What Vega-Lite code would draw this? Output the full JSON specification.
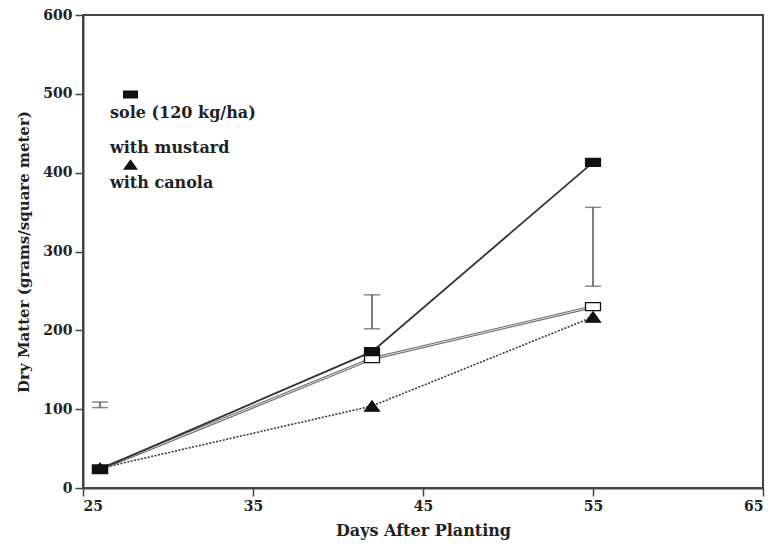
{
  "$schema": "https://vega.github.io/schema/vega-lite/v6.json",
  "autosize": "none",
  "width": 680,
  "height": 473,
  "padding": {"left": 83, "top": 15, "right": 11, "bottom": 58},
  "background": "white",
  "config": {
    "view": {"stroke": "#444", "strokeWidth": 2},
    "font": "DejaVu Serif",
    "axis": {
      "grid": false,
      "domainColor": "#444",
      "domainWidth": 2,
      "tickColor": "#444",
      "tickWidth": 1.5,
      "tickSize": 8,
      "labelFont": "DejaVu Serif",
      "labelFontWeight": "bold",
      "labelFontSize": 14,
      "labelColor": "#222",
      "titleFont": "DejaVu Serif",
      "titleFontWeight": "bold",
      "titleFontSize": 15,
      "titleColor": "#222"
    }
  },
  "datasets": {
    "growth": [
      {"series": "sole (120 kg/ha)", "day": 26, "dm": 24},
      {"series": "sole (120 kg/ha)", "day": 42, "dm": 173},
      {"series": "sole (120 kg/ha)", "day": 55, "dm": 413},
      {"series": "with mustard", "day": 26, "dm": 24},
      {"series": "with mustard", "day": 42, "dm": 164},
      {"series": "with mustard", "day": 55, "dm": 230},
      {"series": "with canola", "day": 26, "dm": 25},
      {"series": "with canola", "day": 42, "dm": 104},
      {"series": "with canola", "day": 55, "dm": 217}
    ],
    "lsd": [
      {"day": 26, "lo": 102, "hi": 109},
      {"day": 42, "lo": 202, "hi": 245},
      {"day": 55, "lo": 256, "hi": 356}
    ]
  },
  "encoding": {
    "x": {
      "type": "quantitative",
      "scale": {"domain": [25, 65], "nice": false},
      "axis": {"values": [25, 35, 45, 55, 65], "title": "Days After Planting", "titleFontSize": 16, "titlePadding": 9, "labelPadding": 3}
    }
  },
  "layer": [
    {
      "data": {"name": "lsd"},
      "mark": {"type": "rule", "color": "#555", "strokeWidth": 1.5},
      "encoding": {
        "x": {"field": "day"},
        "y": {"field": "lo", "type": "quantitative", "scale": {"domain": [0, 600], "nice": false},
              "axis": {"values": [0, 100, 200, 300, 400, 500, 600], "title": "Dry Matter (grams/square meter)", "titlePadding": 11, "labelPadding": 3}},
        "y2": {"field": "hi"}
      }
    },
    {
      "data": {"name": "lsd"},
      "mark": {"type": "tick", "orient": "horizontal", "color": "#555", "thickness": 1.5, "size": 16},
      "encoding": {"x": {"field": "day"}, "y": {"field": "lo", "type": "quantitative"}}
    },
    {
      "data": {"name": "lsd"},
      "mark": {"type": "tick", "orient": "horizontal", "color": "#555", "thickness": 1.5, "size": 16},
      "encoding": {"x": {"field": "day"}, "y": {"field": "hi", "type": "quantitative"}}
    },
    {
      "data": {"name": "growth"},
      "transform": [{"filter": "datum.series === 'with canola'"}],
      "mark": {"type": "line", "color": "#3a3a3a", "strokeWidth": 1.6, "strokeDash": [2, 1.5]},
      "encoding": {"x": {"field": "day"}, "y": {"field": "dm", "type": "quantitative"}}
    },
    {
      "data": {"name": "growth"},
      "transform": [{"filter": "datum.series === 'with mustard'"}],
      "mark": {"type": "line", "color": "#6a6a6a", "strokeWidth": 3},
      "encoding": {"x": {"field": "day"}, "y": {"field": "dm", "type": "quantitative"}}
    },
    {
      "data": {"name": "growth"},
      "transform": [{"filter": "datum.series === 'with mustard'"}],
      "mark": {"type": "line", "color": "#e4e4e4", "strokeWidth": 1},
      "encoding": {"x": {"field": "day"}, "y": {"field": "dm", "type": "quantitative"}}
    },
    {
      "data": {"name": "growth"},
      "transform": [{"filter": "datum.series === 'sole (120 kg/ha)'"}],
      "mark": {"type": "line", "color": "#333", "strokeWidth": 1.8},
      "encoding": {"x": {"field": "day"}, "y": {"field": "dm", "type": "quantitative"}}
    },
    {
      "data": {"name": "growth"},
      "transform": [{"filter": "datum.series === 'with canola'"}],
      "mark": {"type": "point", "shape": "M0,-0.7L1,0.7H-1Z", "size": 225, "filled": true, "fill": "#111", "stroke": "#111", "strokeWidth": 1.2, "opacity": 1},
      "encoding": {"x": {"field": "day"}, "y": {"field": "dm", "type": "quantitative"}}
    },
    {
      "data": {"name": "growth"},
      "transform": [{"filter": "datum.series === 'with mustard'"}],
      "mark": {"type": "point", "shape": "M-1,-0.53H1V0.53H-1Z", "size": 225, "filled": true, "fill": "#ffffff", "stroke": "#111", "strokeWidth": 1.3, "opacity": 1},
      "encoding": {"x": {"field": "day"}, "y": {"field": "dm", "type": "quantitative"}}
    },
    {
      "data": {"name": "growth"},
      "transform": [{"filter": "datum.series === 'sole (120 kg/ha)'"}],
      "mark": {"type": "point", "shape": "M-1,-0.53H1V0.53H-1Z", "size": 225, "filled": true, "fill": "#111", "stroke": "#111", "strokeWidth": 1.2, "opacity": 1},
      "encoding": {"x": {"field": "day"}, "y": {"field": "dm", "type": "quantitative"}}
    },
    {
      "data": {"name": "growth"},
      "mark": {"type": "point", "filled": false, "size": 0, "strokeWidth": 1.5},
      "encoding": {
        "x": {"field": "day"},
        "y": {"field": "dm", "type": "quantitative"},
        "shape": {"field": "series", "type": "nominal",
                  "scale": {"domain": ["sole (120 kg/ha)", "with mustard", "with canola"],
                            "range": ["M-2.7,0H-1M1,0H2.7M-1,-0.53H1V0.53H-1Z", "M-2.7,0H-1M1,0H2.7M-1,-0.53H1V0.53H-1Z", "M-2.7,0H-0.9M0.9,0H2.7M0,-0.7L1,0.7H-1Z"]},
                  "legend": {
                    "title": null,
                    "orient": "none",
                    "legendX": 39,
                    "legendY": 71,
                    "padding": 0,
                    "symbolSize": 225,
                    "symbolStrokeWidth": 1.5,
                    "symbolStrokeColor": "#111",
                    "symbolOpacity": 1,
                    "rowPadding": -19,
                    "labelOffset": -29,
                    "labelExpr": "['', datum.label]",
                    "labelLineHeight": 60,
                    "labelBaseline": "middle",
                    "labelFont": "DejaVu Serif",
                    "labelFontWeight": "bold",
                    "labelFontSize": 16,
                    "labelColor": "#222",
                    "labelLimit": 300
                  }},
        "fill": {"field": "series", "type": "nominal",
                 "scale": {"domain": ["sole (120 kg/ha)", "with mustard", "with canola"], "range": ["#111", "#ffffff", "#111"]},
                 "legend": {
                    "title": null,
                    "orient": "none",
                    "legendX": 39,
                    "legendY": 71,
                    "padding": 0,
                    "symbolSize": 225,
                    "symbolStrokeWidth": 1.5,
                    "symbolStrokeColor": "#111",
                    "symbolOpacity": 1,
                    "rowPadding": -19,
                    "labelOffset": -29,
                    "labelExpr": "['', datum.label]",
                    "labelLineHeight": 60,
                    "labelBaseline": "middle",
                    "labelFont": "DejaVu Serif",
                    "labelFontWeight": "bold",
                    "labelFontSize": 16,
                    "labelColor": "#222",
                    "labelLimit": 300
                  }},
        "stroke": {"value": "#111"}
      }
    }
  ]
}
